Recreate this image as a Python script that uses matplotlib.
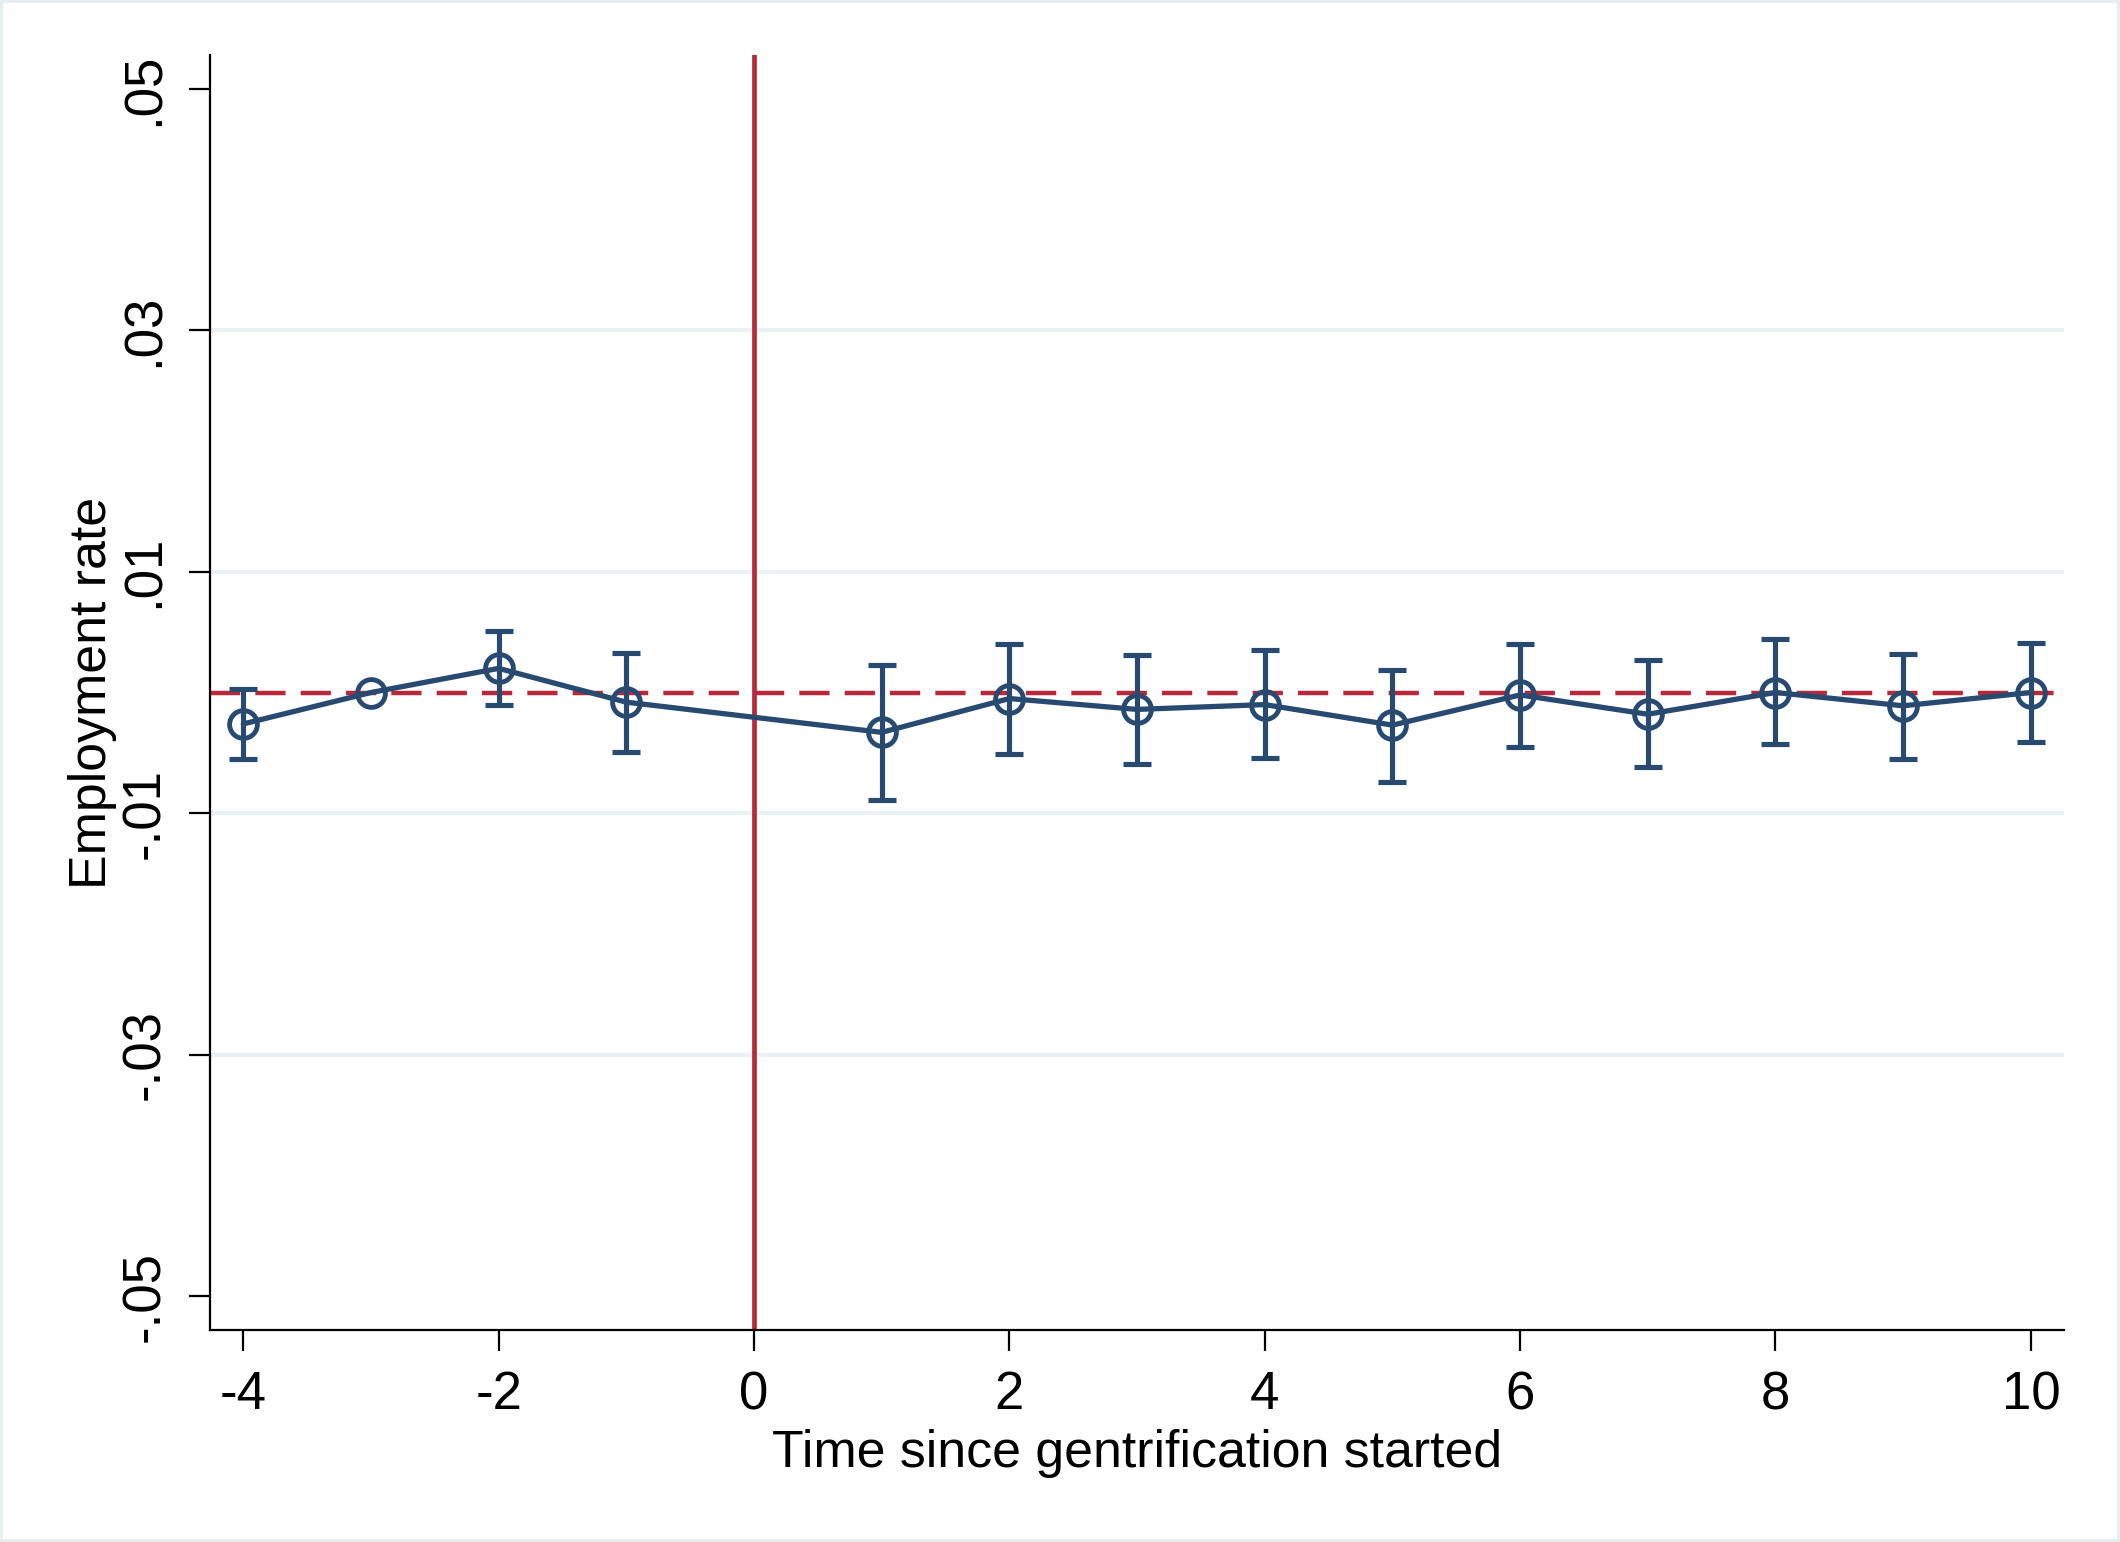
import numpy as np
import matplotlib.pyplot as plt

# event-study estimates
periods = np.array([-4, -3, -2, -1, 1, 2, 3, 4, 5, 6, 7, 8, 9, 10])
coef = np.array([-0.0026, 0.0, 0.0020, -0.0008, -0.0033, -0.0005, -0.0014,
                 -0.0010, -0.0027, -0.0002, -0.0018, 0.0000, -0.0011, 0.0000])
ci_low = np.array([-0.0055, np.nan, -0.0010, -0.0049, -0.0089, -0.0051, -0.0059,
                   -0.0054, -0.0074, -0.0045, -0.0062, -0.0043, -0.0055, -0.0041])
ci_high = np.array([0.0003, np.nan, 0.0051, 0.0033, 0.0023, 0.0040, 0.0031,
                    0.0035, 0.0019, 0.0040, 0.0027, 0.0044, 0.0032, 0.0041])

x_ticks = [-4, -2, 0, 2, 4, 6, 8, 10]
y_ticks = [-0.05, -0.03, -0.01, 0.01, 0.03, 0.05]
y_tick_labels = ['-.05', '-.03', '-.01', '.01', '.03', '.05']

navy = '#294a70'
red = '#b8283a'
grid_col = '#eaf1f3'

plt.rcParams['font.family'] = ['Liberation Sans', 'DejaVu Sans']
plt.rcParams['axes.unicode_minus'] = False

fig = plt.figure(figsize=(10.6, 7.71), dpi=200)
fig.patch.set_edgecolor('#e6eef0')
fig.patch.set_linewidth(1.6)
ax = fig.add_axes([0.0991, 0.1375, 0.8745, 0.8268])

# grid only at inner ticks
for yv in y_ticks[1:-1]:
    ax.axhline(yv, color=grid_col, lw=1.5, zorder=0)

ax.axvline(0, color=red, lw=1.7, zorder=1)
ax.axhline(0, color=red, lw=1.6, ls=(0, (6.8, 3.4)), zorder=1)

has_ci = ~np.isnan(ci_low)
eb = ax.errorbar(periods[has_ci], coef[has_ci],
                 yerr=[coef[has_ci] - ci_low[has_ci], ci_high[has_ci] - coef[has_ci]],
                 fmt='none', ecolor=navy, elinewidth=1.85, capsize=5, capthick=1.85, zorder=2)
for c in eb[1]:
    c.set_solid_capstyle('round')
ax.plot(periods, coef, '-o', color=navy, lw=1.9, ms=10, mfc='none',
        mec=navy, mew=1.75, solid_capstyle='round', zorder=3)

ax.set_xlim(-4.26, 10.26)
ax.set_ylim(-0.0528, 0.0528)
ax.set_xticks(x_ticks)
ax.set_yticks(y_ticks)
ax.set_yticklabels(y_tick_labels, rotation=90, va='center')
ax.tick_params(axis='both', direction='out', length=7.5, width=0.8,
               labelsize=19, color='black')
ax.tick_params(axis='x', pad=7)
ax.tick_params(axis='y', pad=7)

for side in ['top', 'right']:
    ax.spines[side].set_visible(False)
for side in ['left', 'bottom']:
    ax.spines[side].set_linewidth(0.8)

ax.set_xlabel('Time since gentrification started', fontsize=18.7, labelpad=3)
ax.set_ylabel('Employment rate', fontsize=18.7, labelpad=1)

fig.savefig('out.png', dpi=200)
